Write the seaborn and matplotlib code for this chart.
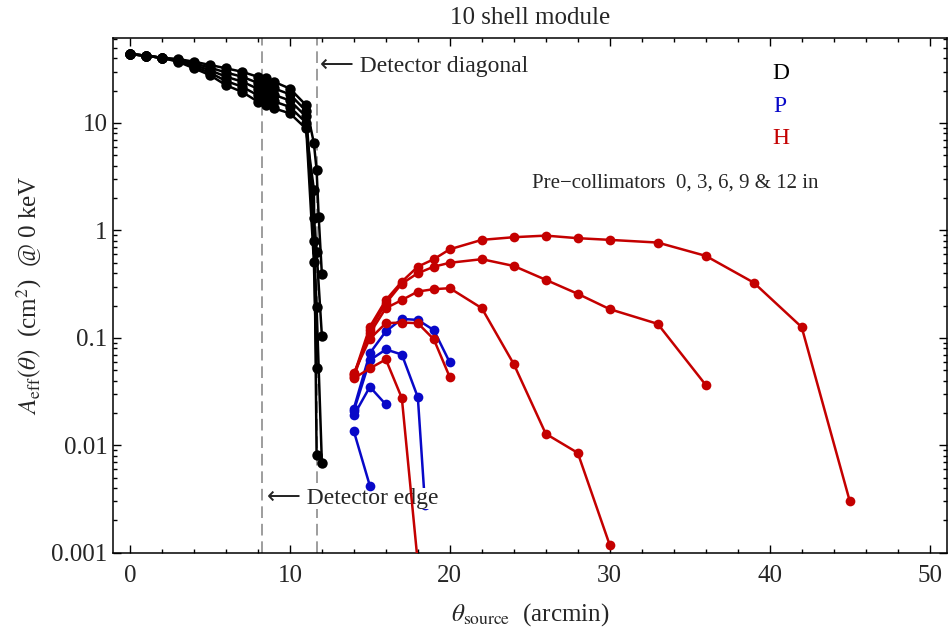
import numpy as np
import pandas as pd
import matplotlib
matplotlib.use("Agg")
import matplotlib.pyplot as plt
from matplotlib.ticker import FixedLocator, MultipleLocator, LogLocator, NullFormatter
import seaborn as sns

# D (black): one curve per pre-collimator length
D_THETA = [0, 1, 2, 3, 4, 5, 6, 7, 8, 8.5, 9, 10, 11]
D_AEFF_0 = [43.8, 42.3, 40.4, 39.4, 37.2, 34.7, 32.3, 30.0, 26.9, 26.1, 24.2, 20.9, 14.7]
D_AEFF_1 = [43.8, 42.3, 40.4, 38.8, 35.9, 32.8, 29.5, 27.0, 23.6, 22.6, 21.0, 18.5, 13.0]
D_AEFF_2 = [43.8, 42.3, 40.4, 38.3, 34.7, 31.0, 27.0, 24.3, 20.8, 19.8, 18.3, 16.2, 11.5]
D_AEFF_3 = [43.8, 42.3, 40.4, 37.7, 33.5, 29.4, 24.6, 21.8, 18.1, 17.1, 15.9, 14.1, 10.1]
D_AEFF_4 = [43.8, 42.3, 40.4, 37.2, 32.3, 27.9, 22.5, 19.5, 15.8, 14.7, 13.7, 12.3, 8.9]
# steep drop past the detector diagonal
D_TAIL_THETA_0 = [11.5, 11.67, 11.8, 12]
D_TAIL_AEFF_0 = [6.5, 3.66, 1.34, 0.39]
D_TAIL_THETA_1 = [11.5, 11.67, 12]
D_TAIL_AEFF_1 = [1.30, 0.636, 0.105]
D_TAIL_THETA_2 = [11.5, 11.67, 12]
D_TAIL_AEFF_2 = [0.79, 0.195, 0.0069]
D_TAIL_THETA_3 = [11.5, 11.67]
D_TAIL_AEFF_3 = [0.51, 0.052]
D_TAIL_THETA_4 = [11.5, 11.67]
D_TAIL_AEFF_4 = [2.4, 0.0082]

# P (blue)
P_THETA_0 = [14, 15, 16, 17, 18, 19, 20]
P_AEFF_0 = [0.022, 0.072, 0.115, 0.150, 0.147, 0.118, 0.059]
P_THETA_1 = [14, 15, 16, 17, 18, 18.45]
P_AEFF_1 = [0.021, 0.062, 0.078, 0.070, 0.028, 0.0028]
P_THETA_2 = [14, 15, 16]
P_AEFF_2 = [0.019, 0.035, 0.024]
P_THETA_3 = [14, 15]
P_AEFF_3 = [0.0135, 0.0042]

# H (red)
H_THETA_0 = [14, 15, 16, 17, 18, 19, 20, 22, 24, 26, 28, 30, 33, 36, 39, 42, 45]
H_AEFF_0 = [0.045, 0.127, 0.225, 0.334, 0.46, 0.54, 0.668, 0.817, 0.865, 0.895,
            0.847, 0.817, 0.771, 0.58, 0.327, 0.126, 0.00305]
H_THETA_1 = [14, 15, 16, 17, 18, 19, 20, 22, 24, 26, 28, 30, 33, 36]
H_AEFF_1 = [0.043, 0.118, 0.21, 0.32, 0.40, 0.46, 0.50, 0.54, 0.467, 0.347,
            0.257, 0.185, 0.135, 0.0365]
H_THETA_2 = [14, 15, 16, 17, 18, 19, 20, 22, 24, 26, 28, 30]
H_AEFF_2 = [0.046, 0.11, 0.189, 0.225, 0.27, 0.284, 0.29, 0.189, 0.057, 0.0128,
            0.0085, 0.00118]
H_THETA_3 = [14, 15, 16, 17, 18, 19, 20]
H_AEFF_3 = [0.047, 0.098, 0.137, 0.139, 0.137, 0.097, 0.043]
H_THETA_4 = [14, 15, 16, 17, 18]
H_AEFF_4 = [0.042, 0.052, 0.063, 0.0275, 0.0008]

DETECTOR_EDGE = 8.25
DETECTOR_DIAGONAL = 11.67

Y_TICKS = [0.001, 0.01, 0.1, 1, 10]
Y_TICK_LABELS = ["0.001", "0.01", "0.1", "1", "10"]
X_TICKS = [0, 10, 20, 30, 40, 50]

COLORS = {"D": "black", "P": "#0808c8", "H": "#c40000"}


def build_frame():
    series = [
        ("D", 0, D_THETA + D_TAIL_THETA_0, D_AEFF_0 + D_TAIL_AEFF_0),
        ("D", 1, D_THETA + D_TAIL_THETA_1, D_AEFF_1 + D_TAIL_AEFF_1),
        ("D", 2, D_THETA + D_TAIL_THETA_2, D_AEFF_2 + D_TAIL_AEFF_2),
        ("D", 3, D_THETA + D_TAIL_THETA_3, D_AEFF_3 + D_TAIL_AEFF_3),
        ("D", 4, D_THETA + D_TAIL_THETA_4, D_AEFF_4 + D_TAIL_AEFF_4),
        ("P", 0, P_THETA_0, P_AEFF_0),
        ("P", 1, P_THETA_1, P_AEFF_1),
        ("P", 2, P_THETA_2, P_AEFF_2),
        ("P", 3, P_THETA_3, P_AEFF_3),
        ("H", 0, H_THETA_0, H_AEFF_0),
        ("H", 1, H_THETA_1, H_AEFF_1),
        ("H", 2, H_THETA_2, H_AEFF_2),
        ("H", 3, H_THETA_3, H_AEFF_3),
        ("H", 4, H_THETA_4, H_AEFF_4),
    ]
    frames = []
    for group, idx, xs, ys in series:
        frames.append(pd.DataFrame({"theta": xs, "aeff": ys,
                                    "group": group, "curve": f"{group}{idx}"}))
    return pd.concat(frames, ignore_index=True)


sns.set_style("ticks")
plt.rcParams["font.family"] = ["Liberation Serif", "DejaVu Sans"]
plt.rcParams["mathtext.fontset"] = "stix"

df = build_frame()

fig, ax = plt.subplots(figsize=(9.51, 6.31), dpi=100)
fig.subplots_adjust(left=0.119, right=0.996, top=0.94, bottom=0.124)

styles = {"D": dict(markersize=7.5, linewidth=1.8),
          "P": dict(markersize=7, linewidth=1.8),
          "H": dict(markersize=7, linewidth=1.8)}
for group in ["D", "P", "H"]:
    n0 = len(ax.lines)
    sns.lineplot(data=df[df["group"] == group], x="theta", y="aeff",
                 units="curve", estimator=None, sort=False,
                 color=COLORS[group], marker="o", markeredgewidth=0,
                 legend=False, ax=ax, **styles[group])
    for ln in ax.lines[n0:]:
        # only the blue curve that runs into the "Detector edge" label goes under it
        if group == "P" and ln.get_xdata()[-1] == P_THETA_1[-1]:
            ln.set_zorder(2.2)
        else:
            ln.set_zorder(4)

for xv in [DETECTOR_EDGE, DETECTOR_DIAGONAL]:
    ax.axvline(xv, color="#8c8c8c", linestyle=(0, (7, 3.5)), linewidth=1.2, zorder=1)

ax.set_yscale("log")
ax.set_xlim(-1.05, 51.1)
ax.set_ylim(0.001, 62)

ax.xaxis.set_major_locator(FixedLocator(X_TICKS))
ax.xaxis.set_minor_locator(MultipleLocator(2))
ax.yaxis.set_major_locator(FixedLocator(Y_TICKS))
ax.set_yticklabels(Y_TICK_LABELS)
ax.yaxis.set_minor_locator(LogLocator(base=10, subs=np.arange(2, 10)))
ax.yaxis.set_minor_formatter(NullFormatter())

ax.tick_params(which="both", direction="in", top=True, right=True,
               labelsize=18, width=1, color="black")
ax.tick_params(which="major", length=6)
ax.tick_params(which="minor", length=3)
ax.tick_params(axis="x", pad=9)
ax.tick_params(axis="y", pad=4)
for sp in ax.spines.values():
    sp.set_linewidth(1.1)
    sp.set_color("black")

ax.set_xlabel(r"$\theta_{\mathrm{source}}$  (arcmin)", fontsize=18, labelpad=10)
ax.set_ylabel(r"$A_{\mathrm{eff}}(\theta)$  (cm$^2$)  @ 0 keV", fontsize=18, labelpad=5)
ax.set_title("10 shell module", fontsize=18, pad=10)

ax.text(11.9, 33.4, "\u27f5 Detector diagonal", fontsize=17, va="center", ha="left")
ax.text(8.6, 0.0032, "\u27f5 Detector edge", fontsize=17, va="center", ha="left",
        zorder=3, bbox=dict(facecolor="white", edgecolor="none", pad=0))

ax.text(40.67, 29, "D", fontsize=17, color=COLORS["D"], ha="center", va="center")
ax.text(40.67, 14.2, "P", fontsize=17, color=COLORS["P"], ha="center", va="center")
ax.text(40.67, 7.2, "H", fontsize=17, color=COLORS["H"], ha="center", va="center")
ax.text(34.1, 2.77, "Pre\u2212collimators  0, 3, 6, 9 & 12 in", fontsize=15,
        ha="center", va="center")

fig.savefig("out.png", dpi=100)
